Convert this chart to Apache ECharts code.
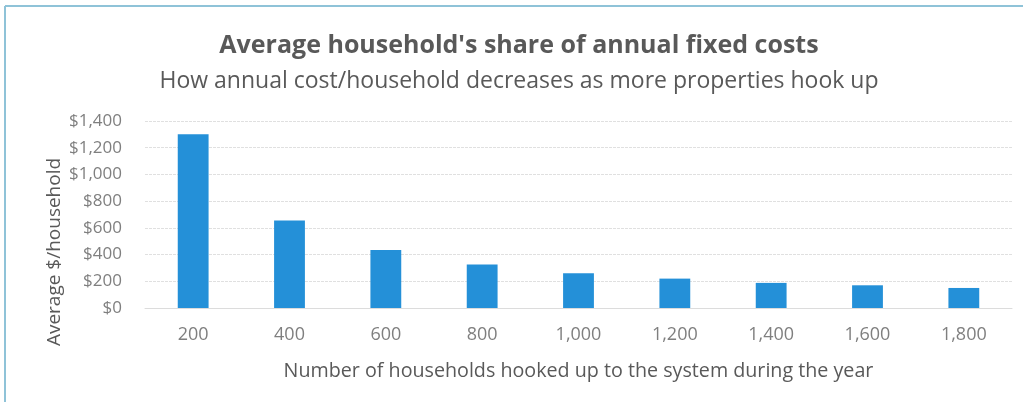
<!DOCTYPE html>
<html>
<head>
<meta charset="utf-8">
<script src="https://cdn.jsdelivr.net/npm/echarts@6/dist/echarts.min.js"></script>
<style>
html,body{margin:0;padding:0;background:#fff;}
#chart{width:1023px;height:402px;}
</style>
</head>
<body>
<div id="chart"></div>
<script>
var titleText = "Average household's share of annual fixed costs";
var subtitleText = "How annual cost/household decreases as more properties hook up";
var xAxisName = "Number of households hooked up to the system during the year";
var yAxisName = "Average $/household";
var categories = ["200","400","600","800","1,000","1,200","1,400","1,600","1,800"];
var costPerHousehold = [1300, 655, 435, 325, 260, 220, 188, 170, 150];

var textColor = '#595959';
var font = 'Open Sans';
var chart = echarts.init(document.getElementById('chart'));
chart.setOption({
  animation: false,
  backgroundColor: '#fff',
  graphic: [{
    type: 'line', shape: {x1: 5, y1: 6, x2: 1023, y2: 6},
    style: {stroke: '#8fc3d8', lineWidth: 2}
  },{
    type: 'line', shape: {x1: 5, y1: 6, x2: 5, y2: 402},
    style: {stroke: '#8fc3d8', lineWidth: 2}
  },{
    type: 'text', x: 519, y: 46,
    style: {text: titleText, fill: textColor, fontFamily: font, fontSize: 25, fontWeight: 'bold', align: 'center', verticalAlign: 'middle'}
  },{
    type: 'text', x: 519, y: 81,
    style: {text: subtitleText, fill: textColor, fontFamily: font, fontSize: 23, align: 'center', verticalAlign: 'middle'}
  },{
    type: 'text', x: 55, y: 252, rotation: Math.PI/2,
    style: {text: yAxisName, fill: textColor, fontFamily: font, fontSize: 19, align: 'center', verticalAlign: 'middle'}
  }],
  grid: {left: 145, right: 11, top: 121, bottom: 94},
  xAxis: {
    type: 'category',
    data: categories,
    name: xAxisName,
    nameLocation: 'middle',
    nameGap: 53,
    nameTextStyle: {fontFamily: font, fontSize: 19.7, color: textColor},
    axisLine: {show: true, lineStyle: {color: '#dcdcdc'}},
    axisTick: {show: false},
    axisLabel: {fontFamily: font, fontSize: 18, color: '#7f7f7f', margin: 18}
  },
  yAxis: {
    type: 'value',
    min: 0, max: 1400, interval: 200,
    axisLine: {show: false},
    axisTick: {show: false},
    splitLine: {lineStyle: {color: '#e0e0e0', type: [3, 1]}},
    axisLabel: {
      fontFamily: font, fontSize: 17, color: '#7f7f7f', margin: 23,
      formatter: function(v){ return '$' + v.toLocaleString('en-US'); }
    }
  },
  series: [{
    type: 'bar',
    data: costPerHousehold,
    barWidth: '32%',
    itemStyle: {color: '#2490d8'}
  }]
});
</script>
</body>
</html>
